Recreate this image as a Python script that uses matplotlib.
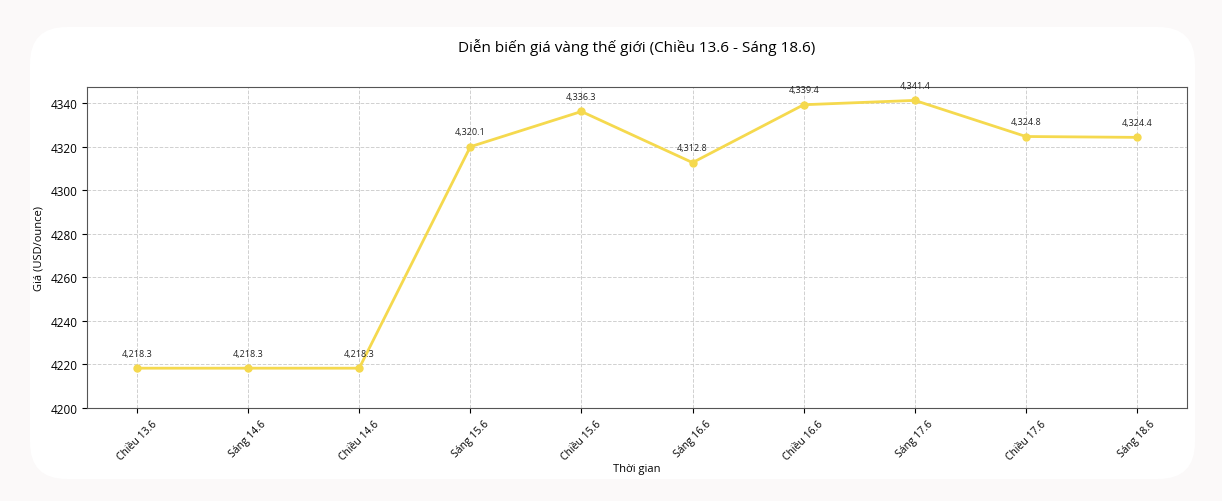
import matplotlib
matplotlib.use("Agg")
import matplotlib.pyplot as plt
from matplotlib.patches import FancyBboxPatch

labels = ["Chiều 13.6", "Sáng 14.6", "Chiều 14.6", "Sáng 15.6", "Chiều 15.6",
          "Sáng 16.6", "Chiều 16.6", "Sáng 17.6", "Chiều 17.6", "Sáng 18.6"]
prices = [4218.3, 4218.3, 4218.3, 4320.1, 4336.3, 4312.8, 4339.4, 4341.4, 4324.8, 4324.4]

plt.rcParams['font.family'] = ['Open Sans', 'DejaVu Sans']

fig = plt.figure(figsize=(12.22, 5.02), dpi=100)
fig.patch.set_facecolor('#fbf9f9')
card = FancyBboxPatch((30/1222, 22/502), 1165/1222, 452/502,
                      boxstyle="round,pad=0,rounding_size=0.03",
                      transform=fig.transFigure, facecolor='white', edgecolor='none',
                      mutation_aspect=1222/502, zorder=-10)
fig.patches.append(card)

ax = fig.add_axes([87/1222, 93/502, 1100/1222, 321/502])
ax.set_zorder(1)
x = list(range(len(labels)))
ax.plot(x, prices, color='#f5d94e', linewidth=2, marker='o', markersize=5)
ax.set_ylim(bottom=4200)
ax.set_xticks(x)
ax.set_xticklabels(labels, rotation=45, fontsize=7.5)
ax.tick_params(axis='y', labelsize=8.5)
ax.grid(True, linestyle='--', color='#d0d0d0', linewidth=0.7)
for xi, p in zip(x, prices):
    ax.annotate(f"{p:,.1f}", (xi, p), textcoords='offset points', xytext=(0, 9),
                ha='center', fontsize=6.5, color='#222222')
ax.set_title("Diễn biến giá vàng thế giới (Chiều 13.6 - Sáng 18.6)", fontsize=11, pad=26)
ax.set_xlabel("Thời gian", fontsize=8, labelpad=1)
ax.set_ylabel("Giá (USD/ounce)", fontsize=8)
for s in ax.spines.values():
    s.set_color('#555555')

fig.savefig("out.png", dpi=100, facecolor=fig.get_facecolor())
